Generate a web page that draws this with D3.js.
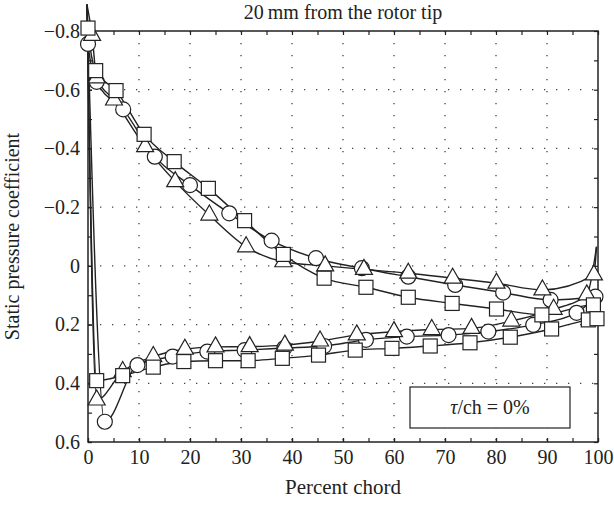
<!DOCTYPE html>
<html>
<head>
<meta charset="utf-8">
<script src="https://cdn.jsdelivr.net/npm/d3@7"></script>
<style>
body { margin: 0; background: #fff; }
svg text { font-family: "Liberation Serif", "DejaVu Serif", serif; fill: #222; }
</style>
</head>
<body>
<script>
//data (x = percent chord, y = static pressure coefficient)
//circles
var circleUpX = [0, 1.7, 6.9, 13.1, 20, 27.7, 36, 44.7, 53.7, 62.8, 72, 81.4, 90.7, 99.5];
var circleUpY = [-0.756, -0.627, -0.533, -0.372, -0.275, -0.179, -0.086, -0.026, 0.008, 0.037, 0.065, 0.091, 0.116, 0.105];
var circleLoX = [3.3, 9.7, 16.6, 23.4, 30.7, 38.5, 46.3, 54.5, 62.5, 70.7, 78.5, 87.3, 95.8];
var circleLoY = [0.531, 0.338, 0.309, 0.292, 0.287, 0.28, 0.273, 0.252, 0.241, 0.236, 0.224, 0.201, 0.16];
//squares
var squareUpX = [0, 1.5, 5.5, 11.0, 16.9, 23.6, 30.7, 38.3, 46.3, 54.5, 62.8, 71.4, 80.1, 89, 99.1];
var squareUpY = [-0.81, -0.665, -0.597, -0.448, -0.355, -0.264, -0.154, -0.039, 0.042, 0.073, 0.107, 0.128, 0.147, 0.167, 0.133];
var squareLoX = [1.7, 6.8, 12.8, 18.8, 25.0, 31.4, 38.1, 45.2, 52.4, 59.6, 67.1, 74.9, 82.8, 90.9, 98.1, 99.8];
var squareLoY = [0.391, 0.374, 0.345, 0.326, 0.323, 0.323, 0.315, 0.304, 0.287, 0.281, 0.273, 0.262, 0.243, 0.215, 0.184, 0.18];
//triangles
var triUpX = [0.8, 1.7, 5.1, 11.2, 17.1, 23.8, 31, 38.3, 46.5, 54.1, 62.8, 71.5, 80.1, 89.1, 99.2];
var triUpY = [-0.785, -0.64, -0.565, -0.406, -0.287, -0.173, -0.065, -0.014, 0.0, 0.012, 0.025, 0.042, 0.059, 0.082, 0.031];
var triLoX = [1.7, 6.8, 12.8, 19, 25, 31.7, 38.6, 45.5, 52.7, 60, 67.4, 75.2, 83, 91.3, 97.8];
var triLoY = [0.457, 0.36, 0.309, 0.284, 0.276, 0.275, 0.270, 0.256, 0.235, 0.224, 0.217, 0.213, 0.188, 0.148, 0.099];

//leading edge tip of the fitted curves and trailing edge spike of the triangle curve
var leTip = [-0.2, -0.89];
var triTE = [99.7, -0.065];

//axis ticks
var xTicks = [0, 10, 20, 30, 40, 50, 60, 70, 80, 90, 100];
var yTicks = [-0.8, -0.6, -0.4, -0.2, 0, 0.2, 0.4, 0.6];

//set up the svg dimensions and margins
var margin = {top: 31, right: 16, bottom: 66, left: 88},
    width = 614 - margin.left - margin.right,
    height = 508 - margin.top - margin.bottom;

var svg = d3.select("body").append("svg")
    .attr("width", 614)
    .attr("height", 508)
    .append("g")
    .attr("transform", "translate(" + margin.left + "," + margin.top + ")");

var xScale = d3.scaleLinear().domain([0, 100]).range([0, width]);
//pressure coefficient axis is flipped: negative values on top
var yScale = d3.scaleLinear().domain([-0.8, 0.6]).range([0, height]);

//dotted grid
svg.selectAll(".gx").data(xTicks.slice(1, -1)).enter().append("line")
    .attr("x1", d => xScale(d)).attr("x2", d => xScale(d))
    .attr("y1", 0).attr("y2", height)
    .attr("stroke", "#444").attr("stroke-width", 1.3)
    .attr("stroke-dasharray", "1.3,10.7");
svg.selectAll(".gy").data(yTicks.slice(1, -1)).enter().append("line")
    .attr("x1", 0).attr("x2", width)
    .attr("y1", d => yScale(d)).attr("y2", d => yScale(d))
    .attr("stroke", "#444").attr("stroke-width", 1.3)
    .attr("stroke-dasharray", "1.3,10.7");

function fmt(d) {
    if (d === 0) return "0";
    return d3.format(".1f")(d).replace("-", "\u2212");
}

var minorX = d3.range(0, 101, 5);
var minorY = d3.range(-8, 7).map(i => i / 10);

//minor ticks, all four sides, pointing inwards
svg.append("g").attr("transform", "translate(0," + height + ")")
    .call(d3.axisBottom(xScale).tickValues(minorX).tickSizeInner(-4).tickSizeOuter(0).tickFormat(""));
svg.append("g")
    .call(d3.axisTop(xScale).tickValues(minorX).tickSizeInner(-4).tickSizeOuter(0).tickFormat(""));
svg.append("g")
    .call(d3.axisLeft(yScale).tickValues(minorY).tickSizeInner(-4).tickSizeOuter(0).tickFormat(""));
svg.append("g").attr("transform", "translate(" + width + ",0)")
    .call(d3.axisRight(yScale).tickValues(minorY).tickSizeInner(-4).tickSizeOuter(0).tickFormat(""));

//labelled axes
var xAxisG = svg.append("g")
    .attr("class", "x axis")
    .attr("transform", "translate(0," + height + ")")
    .call(d3.axisBottom(xScale).tickValues(xTicks).tickSizeInner(-4).tickSizeOuter(0).tickPadding(8));
var yAxisG = svg.append("g")
    .attr("class", "y axis")
    .call(d3.axisLeft(yScale).tickValues(yTicks).tickSizeInner(-4).tickSizeOuter(0).tickPadding(8).tickFormat(fmt));

[xAxisG, yAxisG].forEach(function(g) {
    g.attr("font-size", 20).attr("font-family", "'Liberation Serif', serif");
    g.selectAll("text").attr("font-size", 20).attr("fill", "#222");
});
svg.selectAll(".domain").remove();
svg.selectAll(".tick line").attr("stroke", "#222").attr("stroke-width", 1.2);

//frame
svg.append("rect")
    .attr("width", width).attr("height", height)
    .attr("fill", "none").attr("stroke", "#222").attr("stroke-width", 1.5);

//curves
var line = d3.line()
    .x(d => xScale(d[0]))
    .y(d => yScale(d[1]))
    .curve(d3.curveMonotoneX);

function zip(xs, ys) {
    return xs.map((x, i) => [x, ys[i]]);
}

var circleUp = zip(circleUpX, circleUpY),
    circleLo = zip(circleLoX, circleLoY),
    squareUp = zip(squareUpX, squareUpY),
    squareLo = zip(squareLoX, squareLoY),
    triUp = zip(triUpX, triUpY),
    triLo = zip(triLoX, triLoY);

var curves = [
    [leTip].concat(circleUp),
    [leTip].concat(circleLo, [circleUp[circleUp.length - 1]]),
    [leTip].concat(squareUp, [squareLo[squareLo.length - 1]]),
    [leTip].concat(squareLo),
    [leTip].concat(triUp, [triTE]),
    [leTip].concat(triLo, [triTE])
];

curves.forEach(function(c) {
    svg.append("path")
        .datum(c)
        .attr("d", line)
        .attr("fill", "none")
        .attr("stroke", "#222")
        .attr("stroke-width", 1.4);
});

//markers
var circles = circleUp.concat(circleLo);
svg.selectAll(".circ").data(circles).enter().append("circle")
    .attr("cx", d => xScale(d[0])).attr("cy", d => yScale(d[1]))
    .attr("r", 7.5)
    .attr("fill", "#fff").attr("stroke", "#222").attr("stroke-width", 1.2);

var tris = triUp.concat(triLo);
svg.selectAll(".tri").data(tris).enter().append("path")
    .attr("transform", d => "translate(" + xScale(d[0]) + "," + yScale(d[1]) + ")")
    .attr("d", "M0,-10 L8.5,5 L-8.5,5 Z")
    .attr("fill", "#fff").attr("stroke", "#222").attr("stroke-width", 1.2);

var squares = squareUp.concat(squareLo);
svg.selectAll(".sq").data(squares).enter().append("rect")
    .attr("x", d => xScale(d[0]) - 7).attr("y", d => yScale(d[1]) - 7)
    .attr("width", 14).attr("height", 14)
    .attr("fill", "#fff").attr("stroke", "#222").attr("stroke-width", 1.2);

//title and axis labels
svg.append("text")
    .attr("x", width / 2).attr("y", -12)
    .attr("text-anchor", "middle")
    .attr("font-size", 20)
    .text("20\u2009mm from the rotor tip");

svg.append("text")
    .attr("x", width / 2).attr("y", height + 52)
    .attr("text-anchor", "middle")
    .attr("font-size", 21)
    .text("Percent chord");

svg.append("text")
    .attr("transform", "translate(" + (-69) + "," + (height / 2) + ") rotate(-90)")
    .attr("text-anchor", "middle")
    .attr("font-size", 20)
    .text("Static pressure coefficient");

//legend box
svg.append("rect")
    .attr("x", 322).attr("y", 356)
    .attr("width", 160).attr("height", 41)
    .attr("fill", "#fff").attr("stroke", "#222").attr("stroke-width", 1.2);
var lt = svg.append("text")
    .attr("x", 402).attr("y", 383)
    .attr("text-anchor", "middle")
    .attr("font-size", 20);
lt.append("tspan").style("font-style", "italic").text("\u03c4");
lt.append("tspan").text("/ch = 0%");
</script>
</body>
</html>
